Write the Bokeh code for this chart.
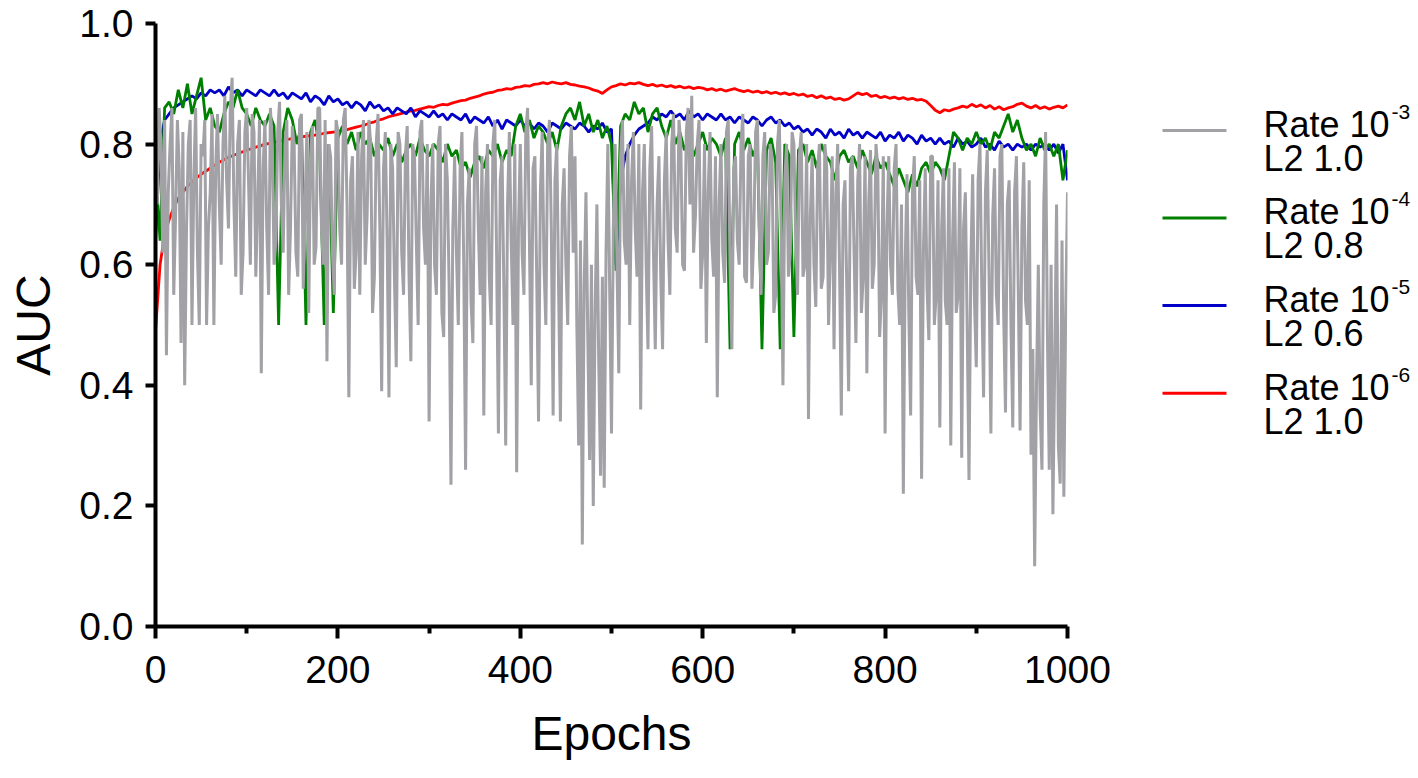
from bokeh.plotting import figure
from bokeh.models import Range1d, FixedTicker, NumeralTickFormatter
from bokeh.layouts import row
from bokeh.embed import file_html
from bokeh.resources import INLINE
from bokeh.core.properties import value

FONT = "Liberation Sans"

# ---------------- data ----------------
# Rate 1e-3, L2 1.0 (grey), one value every 2 epochs
epochs_gray = list(range(0, 1001, 2))
auc_rate_1e3 = [
    0.78, 0.70, 0.86, 0.80, 0.62, 0.84, 0.45, 0.72, 0.80, 0.86, 0.55, 0.68, 0.84, 0.76, 0.47, 0.82, 0.40, 0.66, 0.80, 0.84, 0.50, 0.74, 0.86, 0.62, 0.50,
    0.80, 0.78, 0.84, 0.50, 0.66, 0.72, 0.85, 0.50, 0.76, 0.85, 0.70, 0.60, 0.80, 0.88, 0.74, 0.66, 0.86, 0.91, 0.70, 0.58, 0.80, 0.84, 0.55, 0.62, 0.82,
    0.86, 0.74, 0.60, 0.85, 0.82, 0.58, 0.70, 0.84, 0.42, 0.76, 0.84, 0.66, 0.55, 0.86, 0.80, 0.60, 0.64, 0.82, 0.87, 0.70, 0.62, 0.80, 0.84, 0.55, 0.66,
    0.83, 0.80, 0.62, 0.58, 0.84, 0.85, 0.56, 0.70, 0.82, 0.52, 0.78, 0.83, 0.60, 0.63, 0.86, 0.86, 0.66, 0.60, 0.84, 0.44, 0.80, 0.78, 0.62, 0.55, 0.84,
    0.82, 0.66, 0.60, 0.84, 0.86, 0.70, 0.38, 0.74, 0.78, 0.56, 0.62, 0.82, 0.55, 0.78, 0.84, 0.60, 0.68, 0.84, 0.80, 0.52, 0.58, 0.80, 0.85, 0.66, 0.39,
    0.76, 0.82, 0.64, 0.38, 0.80, 0.76, 0.58, 0.43, 0.82, 0.80, 0.62, 0.55, 0.78, 0.83, 0.58, 0.44, 0.80, 0.78, 0.64, 0.50, 0.82, 0.84, 0.66, 0.60, 0.80,
    0.34, 0.70, 0.80, 0.60, 0.55, 0.80, 0.83, 0.52, 0.48, 0.80, 0.74, 0.56, 0.235, 0.66, 0.78, 0.62, 0.50, 0.76, 0.82, 0.60, 0.26, 0.70, 0.76, 0.54, 0.47,
    0.80, 0.83, 0.66, 0.55, 0.78, 0.35, 0.72, 0.80, 0.58, 0.50, 0.80, 0.84, 0.62, 0.32, 0.74, 0.78, 0.56, 0.30, 0.70, 0.82, 0.64, 0.50, 0.80, 0.256, 0.66,
    0.80, 0.62, 0.55, 0.82, 0.86, 0.64, 0.40, 0.76, 0.78, 0.58, 0.34, 0.72, 0.82, 0.60, 0.50, 0.80, 0.84, 0.66, 0.35, 0.74, 0.80, 0.56, 0.34, 0.70, 0.76,
    0.60, 0.50, 0.78, 0.83, 0.62, 0.78, 0.50, 0.30, 0.64, 0.136, 0.56, 0.72, 0.48, 0.276, 0.60, 0.20, 0.52, 0.70, 0.44, 0.25, 0.58, 0.23, 0.62, 0.80, 0.56,
    0.32, 0.66, 0.80, 0.60, 0.42, 0.78, 0.84, 0.64, 0.60, 0.80, 0.50, 0.74, 0.82, 0.66, 0.58, 0.80, 0.36, 0.72, 0.80, 0.60, 0.46, 0.76, 0.83, 0.62, 0.46,
    0.70, 0.78, 0.58, 0.46, 0.74, 0.82, 0.64, 0.55, 0.80, 0.85, 0.66, 0.62, 0.84, 0.80, 0.60, 0.59, 0.82, 0.86, 0.70, 0.88, 0.62, 0.68, 0.80, 0.84, 0.56,
    0.62, 0.80, 0.47, 0.72, 0.82, 0.64, 0.58, 0.78, 0.38, 0.70, 0.80, 0.62, 0.57, 0.82, 0.84, 0.60, 0.46, 0.76, 0.78, 0.64, 0.60, 0.80, 0.85, 0.58, 0.57,
    0.78, 0.80, 0.56, 0.65, 0.82, 0.84, 0.66, 0.55, 0.78, 0.82, 0.60, 0.62, 0.80, 0.78, 0.52, 0.55, 0.80, 0.84, 0.66, 0.40, 0.74, 0.80, 0.58, 0.62, 0.82,
    0.80, 0.64, 0.55, 0.78, 0.82, 0.58, 0.60, 0.80, 0.344, 0.68, 0.78, 0.60, 0.53, 0.76, 0.80, 0.56, 0.58, 0.80, 0.76, 0.50, 0.62, 0.78, 0.46, 0.72, 0.80,
    0.60, 0.35, 0.70, 0.74, 0.56, 0.39, 0.76, 0.78, 0.62, 0.47, 0.74, 0.80, 0.52, 0.58, 0.78, 0.42, 0.70, 0.79, 0.56, 0.60, 0.80, 0.76, 0.48, 0.55, 0.78,
    0.32, 0.66, 0.78, 0.60, 0.55, 0.76, 0.80, 0.56, 0.50, 0.70, 0.22, 0.60, 0.75, 0.52, 0.35, 0.72, 0.78, 0.58, 0.55, 0.74, 0.245, 0.62, 0.76, 0.56, 0.475,
    0.78, 0.78, 0.50, 0.55, 0.74, 0.33, 0.66, 0.76, 0.54, 0.50, 0.76, 0.30, 0.64, 0.77, 0.52, 0.55, 0.76, 0.28, 0.66, 0.72, 0.50, 0.243, 0.60, 0.75, 0.54,
    0.43, 0.74, 0.80, 0.56, 0.38, 0.72, 0.79, 0.58, 0.32, 0.68, 0.76, 0.55, 0.50, 0.78, 0.80, 0.52, 0.355, 0.70, 0.74, 0.50, 0.33, 0.72, 0.78, 0.56, 0.325,
    0.66, 0.77, 0.54, 0.50, 0.74, 0.285, 0.46, 0.10, 0.40, 0.60, 0.36, 0.26, 0.70, 0.82, 0.48, 0.26, 0.60, 0.186, 0.44, 0.70, 0.30, 0.237, 0.64, 0.215, 0.52,
    0.72,
]

# Other three runs, one value every 5 epochs
epochs = list(range(0, 1001, 5))
auc_rate_1e4 = [
    0.76, 0.64, 0.86, 0.87, 0.85, 0.89, 0.86, 0.90, 0.85, 0.88, 0.91, 0.84, 0.86, 0.83, 0.82, 0.85, 0.87, 0.86, 0.89, 0.86,
    0.85, 0.83, 0.86, 0.84, 0.83, 0.85, 0.83, 0.50, 0.82, 0.86, 0.84, 0.80, 0.83, 0.50, 0.82, 0.84, 0.79, 0.50, 0.80, 0.52,
    0.81, 0.83, 0.80, 0.82, 0.79, 0.82, 0.80, 0.81, 0.78, 0.80, 0.79, 0.81, 0.78, 0.80, 0.77, 0.79, 0.80, 0.78, 0.81, 0.79,
    0.78, 0.80, 0.79, 0.77, 0.80, 0.78, 0.79, 0.76, 0.77, 0.745, 0.77, 0.78, 0.76, 0.79, 0.78, 0.80, 0.77, 0.79, 0.78, 0.83,
    0.85, 0.82, 0.84, 0.81, 0.83, 0.82, 0.80, 0.82, 0.79, 0.83, 0.85, 0.86, 0.84, 0.87, 0.83, 0.85, 0.82, 0.84, 0.81, 0.83,
    0.80, 0.59, 0.83, 0.85, 0.84, 0.87, 0.85, 0.86, 0.82, 0.85, 0.86, 0.83, 0.81, 0.84, 0.80, 0.82, 0.79, 0.81, 0.78, 0.80,
    0.82, 0.79, 0.81, 0.80, 0.78, 0.81, 0.46, 0.80, 0.82, 0.79, 0.81, 0.78, 0.80, 0.46, 0.79, 0.81, 0.77, 0.46, 0.80, 0.78,
    0.48, 0.79, 0.80, 0.77, 0.79, 0.76, 0.80, 0.78, 0.77, 0.74, 0.78, 0.79, 0.77, 0.78, 0.76, 0.79, 0.77, 0.75, 0.78, 0.76,
    0.77, 0.75, 0.73, 0.76, 0.74, 0.72, 0.75, 0.73, 0.76, 0.77, 0.75, 0.77, 0.76, 0.74, 0.78, 0.82, 0.81, 0.79, 0.81, 0.80,
    0.82, 0.80, 0.81, 0.79, 0.82, 0.81, 0.83, 0.85, 0.82, 0.84, 0.81, 0.79, 0.80, 0.78, 0.81, 0.79, 0.80, 0.78, 0.80, 0.74,
    0.79,
]
auc_rate_1e5 = [
    0.64, 0.80, 0.84, 0.85, 0.86, 0.865, 0.87, 0.875, 0.88, 0.875, 0.885, 0.88, 0.89, 0.885, 0.89, 0.88, 0.895, 0.885, 0.89, 0.88,
    0.89, 0.885, 0.88, 0.89, 0.885, 0.88, 0.89, 0.88, 0.885, 0.875, 0.885, 0.88, 0.875, 0.885, 0.87, 0.88, 0.875, 0.865, 0.88, 0.87,
    0.875, 0.865, 0.87, 0.86, 0.87, 0.865, 0.855, 0.87, 0.86, 0.865, 0.855, 0.86, 0.85, 0.86, 0.855, 0.85, 0.86, 0.845, 0.855, 0.85,
    0.845, 0.855, 0.845, 0.85, 0.84, 0.85, 0.845, 0.84, 0.85, 0.835, 0.845, 0.84, 0.835, 0.845, 0.83, 0.84, 0.825, 0.84, 0.835, 0.83,
    0.84, 0.83, 0.835, 0.825, 0.835, 0.83, 0.82, 0.835, 0.83, 0.825, 0.835, 0.83, 0.825, 0.835, 0.83, 0.82, 0.83, 0.825, 0.835, 0.82,
    0.825, 0.60, 0.74, 0.78, 0.80, 0.815, 0.825, 0.83, 0.835, 0.845, 0.84, 0.85, 0.845, 0.855, 0.845, 0.85, 0.84, 0.855, 0.845, 0.85,
    0.84, 0.85, 0.845, 0.84, 0.85, 0.84, 0.845, 0.835, 0.845, 0.84, 0.835, 0.845, 0.84, 0.83, 0.84, 0.845, 0.835, 0.84, 0.83, 0.835,
    0.825, 0.83, 0.82, 0.825, 0.815, 0.825, 0.82, 0.81, 0.825, 0.815, 0.82, 0.81, 0.825, 0.815, 0.82, 0.81, 0.82, 0.815, 0.81, 0.82,
    0.805, 0.815, 0.81, 0.82, 0.805, 0.815, 0.81, 0.80, 0.815, 0.805, 0.81, 0.80, 0.81, 0.80, 0.805, 0.795, 0.81, 0.80, 0.805, 0.795,
    0.80, 0.81, 0.795, 0.80, 0.79, 0.805, 0.795, 0.80, 0.79, 0.80, 0.795, 0.80, 0.79, 0.80, 0.795, 0.80, 0.79, 0.80, 0.785, 0.80,
    0.74,
]
auc_rate_1e6 = [
    0.49, 0.60, 0.65, 0.675, 0.695, 0.71, 0.72, 0.73, 0.737, 0.744, 0.75, 0.755, 0.76, 0.765, 0.77, 0.774, 0.778, 0.781, 0.784, 0.787,
    0.79, 0.792, 0.795, 0.797, 0.80, 0.801, 0.803, 0.805, 0.806, 0.808, 0.809, 0.81, 0.812, 0.813, 0.814, 0.815, 0.816, 0.818, 0.819, 0.82,
    0.821, 0.823, 0.824, 0.826, 0.828, 0.83, 0.832, 0.835, 0.837, 0.84, 0.842, 0.845, 0.847, 0.849, 0.851, 0.853, 0.855, 0.856, 0.858, 0.86,
    0.862, 0.861, 0.864, 0.866, 0.865, 0.868, 0.87, 0.872, 0.873, 0.876, 0.878, 0.88, 0.883, 0.885, 0.886, 0.889, 0.89, 0.892, 0.891, 0.894,
    0.895, 0.897, 0.896, 0.899, 0.90, 0.902, 0.90, 0.903, 0.901, 0.90, 0.902, 0.899, 0.898, 0.896, 0.895, 0.893, 0.89, 0.888, 0.884, 0.89,
    0.895, 0.897, 0.90, 0.898, 0.901, 0.90, 0.902, 0.899, 0.897, 0.899, 0.896, 0.898, 0.895, 0.897, 0.894, 0.896, 0.893, 0.895, 0.892, 0.894,
    0.893, 0.89, 0.892, 0.889, 0.891, 0.888, 0.89, 0.892, 0.889, 0.887, 0.889, 0.886, 0.888, 0.885, 0.887, 0.884, 0.886, 0.883, 0.885, 0.882,
    0.884, 0.881, 0.883, 0.879, 0.881, 0.877, 0.88, 0.876, 0.878, 0.874, 0.876, 0.873, 0.875, 0.88, 0.885, 0.882, 0.884, 0.879, 0.881, 0.877,
    0.879, 0.876, 0.878, 0.875, 0.877, 0.874, 0.876, 0.873, 0.874, 0.871, 0.864, 0.856, 0.852, 0.857, 0.855, 0.858, 0.86, 0.863, 0.861, 0.866,
    0.862, 0.865, 0.86, 0.864, 0.858, 0.862, 0.857, 0.86, 0.862, 0.866, 0.868, 0.863, 0.86, 0.864, 0.859, 0.862, 0.858, 0.861, 0.863, 0.86,
    0.865,
]

x_ticks = [0, 200, 400, 600, 800, 1000]
x_minor_ticks = [100, 300, 500, 700, 900]
y_ticks = [0.0, 0.2, 0.4, 0.6, 0.8, 1.0]

legend_rate = ["Rate 10", "Rate 10", "Rate 10", "Rate 10"]
legend_exp = ["-3", "-4", "-5", "-6"]
legend_l2 = ["L2 1.0", "L2 0.8", "L2 0.6", "L2 1.0"]
legend_colors = ["#a1a1a6", "#008000", "#0000c8", "#ff0000"]

# ---------------- main plot ----------------
p = figure(width=1117, height=778, output_backend="svg", toolbar_location=None,
           x_range=Range1d(0, 1000), y_range=Range1d(0, 1.0),
           min_border_left=155, min_border_right=50, min_border_top=23, min_border_bottom=152)
p.outline_line_color = None
p.grid.visible = False
p.background_fill_color = "white"
p.border_fill_color = "white"

p.line(epochs, auc_rate_1e6, line_color=legend_colors[3], line_width=2.8)
p.line(epochs, auc_rate_1e5, line_color=legend_colors[2], line_width=2.8)
p.line(epochs, auc_rate_1e4, line_color=legend_colors[1], line_width=2.8)
p.line(epochs_gray, auc_rate_1e3, line_color=legend_colors[0], line_width=3)

for ax in (p.xaxis[0], p.yaxis[0]):
    ax.axis_line_width = 4
    ax.axis_line_color = "black"
    ax.major_tick_line_width = 4
    ax.major_tick_line_color = "black"
    ax.major_tick_in = 0
    ax.minor_tick_in = 0
    ax.minor_tick_line_width = 4
    ax.minor_tick_line_color = "black"
    ax.major_label_text_font = FONT
    ax.major_label_text_font_size = "39px"
    ax.major_label_text_color = "black"
    ax.axis_label_text_font = FONT
    ax.axis_label_text_font_size = "48px"
    ax.axis_label_text_font_style = "normal"
    ax.axis_label_text_color = "black"

xa = p.xaxis[0]
xa.ticker = FixedTicker(ticks=x_ticks, minor_ticks=x_minor_ticks)
xa.major_tick_out = 12
xa.minor_tick_out = 7
xa.major_label_standoff = 17
xa.axis_label = "Epochs"
xa.axis_label_standoff = 21

ya = p.yaxis[0]
ya.ticker = FixedTicker(ticks=y_ticks, minor_ticks=[])
ya.formatter = NumeralTickFormatter(format="0.0")
ya.major_tick_out = 10
ya.minor_tick_out = 0
ya.major_label_standoff = 12
ya.axis_label = "AUC"
ya.axis_label_standoff = 16

# ---------------- legend panel (coordinates = page pixels) ----------------
lg = figure(width=301, height=778, output_backend="svg", toolbar_location=None,
            x_range=Range1d(1117, 1418), y_range=Range1d(778, 0),
            x_axis_type=None, y_axis_type=None,
            min_border_left=0, min_border_right=0, min_border_top=0, min_border_bottom=0)
lg.outline_line_color = None
lg.grid.visible = False

line_y = [138 + 113 * i for i in range(4)]
lg.segment(x0=[1162] * 4, x1=[1226] * 4, y0=line_y, y1=line_y,
           line_color=legend_colors, line_width=3)
lg.text(x=[1263] * 4, y=[v - 8 for v in line_y], text=legend_rate,
        text_font=value(FONT), text_font_size="36px", text_color="black",
        text_align="left", text_baseline="alphabetic")
lg.text(x=[1391] * 4, y=[v - 24 for v in line_y], text=legend_exp,
        text_font=value(FONT), text_font_size="21px", text_color="black",
        text_align="left", text_baseline="alphabetic")
lg.text(x=[1263] * 4, y=[v + 36 for v in line_y], text=legend_l2,
        text_font=value(FONT), text_font_size="36px", text_color="black",
        text_align="left", text_baseline="alphabetic")

layout = row(p, lg)
open("out.html", "w").write(file_html(layout, INLINE))
